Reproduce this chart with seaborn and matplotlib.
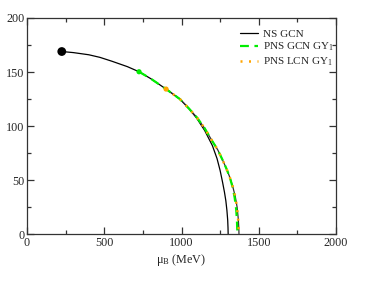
import numpy as np
import pandas as pd
import matplotlib
matplotlib.use("Agg")
import matplotlib.pyplot as plt
import seaborn as sns

# NS GCN (inner black line)
ns_mu = [225, 300, 400, 472, 550, 650, 725, 800, 900, 990, 1050, 1100, 1150, 1200, 1230,
         1250, 1266, 1278, 1287, 1294, 1299, 1301, 1302]
ns_T = [169, 168, 166, 163.6, 160, 155, 150.3, 144, 134.3, 125, 116, 107, 96, 82, 70,
        59, 48, 39, 31, 22, 13, 6, 0]

# second black line (no legend entry)
b2_mu = [900, 990, 1050, 1100, 1150, 1200, 1235, 1265, 1290, 1312, 1332, 1348, 1360, 1367, 1371, 1372]
b2_T = [134.3, 125, 116, 108, 98, 86, 78, 69, 61, 53, 44, 35, 25, 15, 6, 0]

# PNS GCN GY1
gcn_mu = [725, 800, 900, 990, 1050, 1100, 1150, 1200, 1235, 1265, 1290, 1312, 1330, 1344, 1354, 1359, 1362]
gcn_T = [150.3, 144, 134.3, 125, 116, 108, 98, 86, 78, 69, 61, 53, 44, 34, 23, 12, 0]

# PNS LCN GY1
lcn_mu = [900, 990, 1050, 1100, 1150, 1200, 1235, 1265, 1290, 1312, 1332, 1348, 1359, 1366, 1370, 1371]
lcn_T = [134.3, 125, 116, 108, 98, 86, 78, 69, 61, 53, 44, 35, 25, 15, 6, 0]

# end points
dot_mu = [225, 725, 900]
dot_T = [169, 150.3, 134.3]
dot_colors = ["black", "#00ee00", "#ffa500"]
dot_sizes = [40, 14, 14]

sns.set_style("ticks")
plt.rcParams["font.family"] = ["Liberation Serif", "DejaVu Serif"]
plt.rcParams["mathtext.fontset"] = "custom"
plt.rcParams["mathtext.rm"] = "Liberation Serif"
plt.rcParams["mathtext.it"] = "Liberation Serif:italic"

fig = plt.figure(figsize=(3.81, 2.81), dpi=100)
ax = fig.add_axes([0.0709, 0.166, 0.8110, 0.770])

sns.lineplot(x=ns_mu, y=ns_T, sort=False, estimator=None, color="black", lw=0.9, ax=ax, label="NS GCN")
sns.lineplot(x=b2_mu, y=b2_T, sort=False, estimator=None, color="#333333", lw=0.9, ax=ax)
sns.lineplot(x=gcn_mu, y=gcn_T, sort=False, estimator=None, color="#00ee00", lw=1.6,
             ax=ax, label="PNS GCN GY$_1$")
ax.lines[-1].set_dashes([4, 2.5])
sns.lineplot(x=lcn_mu, y=lcn_T, sort=False, estimator=None, color="#ffa500", lw=1.8,
             ax=ax, label="PNS LCN GY$_1$")
ax.lines[-1].set_dashes([0.8, 2.6])
for m, t, c, s in zip(dot_mu, dot_T, dot_colors, dot_sizes):
    ax.scatter([m], [t], color=c, s=s, zorder=5, edgecolor="none")

ax.set_xlim(0, 2000)
ax.set_ylim(0, 200)
ax.set_xticks([0, 500, 1000, 1500, 2000])
ax.set_yticks([0, 50, 100, 150, 200])
ax.set_xticks([250, 750, 1250, 1750], minor=True)
ax.set_yticks([25, 75, 125, 175], minor=True)
ax.tick_params(which="both", direction="in", top=True, right=True, labelsize=8.7, color="#333333")
ax.tick_params(which="major", length=5, width=0.9, pad=2)
ax.tick_params(which="minor", length=3, width=0.9)
for sp in ax.spines.values():
    sp.set_color("#333333")
    sp.set_linewidth(0.9)

ax.set_xlabel("μ$_\\mathrm{B}$ (MeV)", fontsize=8.7, labelpad=2)
ax.set_ylabel("T (MeV)", fontsize=8.7)
ax.yaxis.set_label_coords(-0.084, 0.5)

ax.legend(loc="upper left", bbox_to_anchor=(0.69, 0.95), frameon=False, fontsize=8,
          borderaxespad=0, borderpad=0, handlelength=1.6, handletextpad=0.45, labelspacing=0.2)

fig.savefig("out.png", dpi=100)
